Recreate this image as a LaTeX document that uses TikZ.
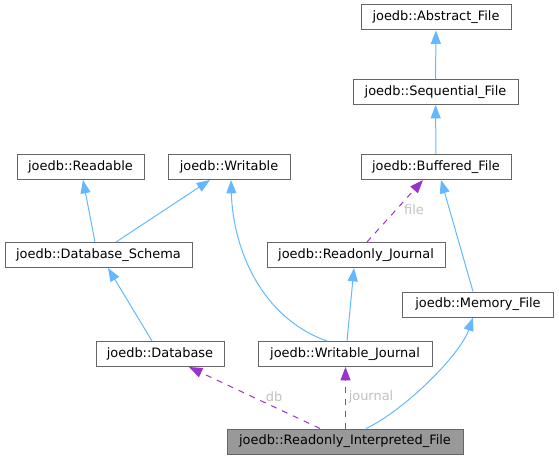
\documentclass[tikz,border=0pt]{standalone}
\usepackage{fontspec}
\setmainfont{DejaVu Sans}
\usetikzlibrary{arrows.meta, calc}
\definecolor{edgeblue}{HTML}{63B8FF}
\definecolor{edgepurple}{HTML}{9A32CD}
\definecolor{boxgray}{HTML}{666666}
\definecolor{labelgray}{HTML}{C0C0C0}
\definecolor{mainfill}{HTML}{999999}

\begin{document}
\begin{tikzpicture}[x=0.75pt,y=-0.75pt]
        \tikzstyle{every node}+=[inner sep=0pt, font=\fontsize{9.7}{11}\selectfont]
        \tikzstyle{cls}=[draw=boxgray, line width=0.75pt, fill=white, minimum height=18.75pt]
        \tikzstyle{inherit}=[draw=edgeblue, line width=0.75pt, -{Triangle[length=10pt,width=7.5pt]}]
        \tikzstyle{usage}=[draw=edgepurple, line width=0.75pt, dash pattern=on 4.5pt off 4.5pt, -{Triangle[length=10pt,width=7.5pt]}]
        \tikzstyle{lbl}=[text=labelgray]
        \useasboundingbox (0,0) rectangle (559,460);
        \node[cls, minimum width=112.5pt] (abstractfile) at (436,17.5) {joedb::Abstract\_File};
        \node[cls, minimum width=123.75pt] (seqfile) at (435.5,92) {joedb::Sequential\_File};
        \node[cls, minimum width=112.5pt] (bufferedfile) at (436,167) {joedb::Buffered\_File};
        \node[cls, minimum width=95.25pt] (readable) at (80.5,167) {joedb::Readable};
        \node[cls, minimum width=91.5pt] (writable) at (229,167) {joedb::Writable};
        \node[cls, minimum width=140.25pt] (schema) at (98.5,255) {joedb::Database\_Schema};
        \node[cls, minimum width=133.5pt] (rojournal) at (356,255) {joedb::Readonly\_Journal};
        \node[cls, minimum width=113.25pt] (memfile) at (478,304.5) {joedb::Memory\_File};
        \node[cls, minimum width=96pt] (database) at (160,354) {joedb::Database};
        \node[cls, minimum width=130.5pt] (wjournal) at (345,354) {joedb::Writable\_Journal};
        \node[cls, fill=mainfill, minimum width=177pt] (rofile) at (345,441.5) {joedb::Readonly\_Interpreted\_File};
        % inheritance
        \draw[inherit] (seqfile) -- (abstractfile);
        \draw[inherit] (bufferedfile) -- (seqfile);
        \draw[inherit] ($(schema.north)+(-3.5,0)$) -- ($(readable.south)+(2.5,0)$);
        \draw[inherit] ($(schema.north)+(17.5,0)$) -- ($(writable.south)+(-19,0)$);
        \draw[inherit] ($(database.north)+(-8,0)$) -- ($(schema.south)+(9.5,0)$);
        \draw[inherit] ($(wjournal.north)+(-18,0)$) .. controls (262,318) and (233,250) .. ($(writable.south)+(2,0)$);
        \draw[inherit] ($(wjournal.north)+(2,0)$) -- ($(rojournal.south)+(-2,0)$);
        \draw[inherit] ($(memfile.north)+(-5,0)$) -- ($(bufferedfile.south)+(5,0)$);
        \draw[inherit] ($(rofile.north)+(21,0)$) .. controls (405,410) and (460,355) .. ($(memfile.south)+(-5,0)$);
        % members
        \draw[usage] ($(rojournal.north)+(11,0)$) -- ($(bufferedfile.south)+(-13,0)$);
        \node[lbl] (filelbl) at (414,210) {file};
        \draw[usage] ($(rofile.north)+(-25,0)$) -- ($(database.south)+(29,0)$);
        \node[lbl] (dblbl) at (274,397) {db};
        \draw[usage] ($(rofile.north)+(0.5,0)$) -- ($(wjournal.south)+(0.5,0)$);
        \node[lbl] (journallbl) at (371,397) {journal};
\end{tikzpicture}
\end{document}
